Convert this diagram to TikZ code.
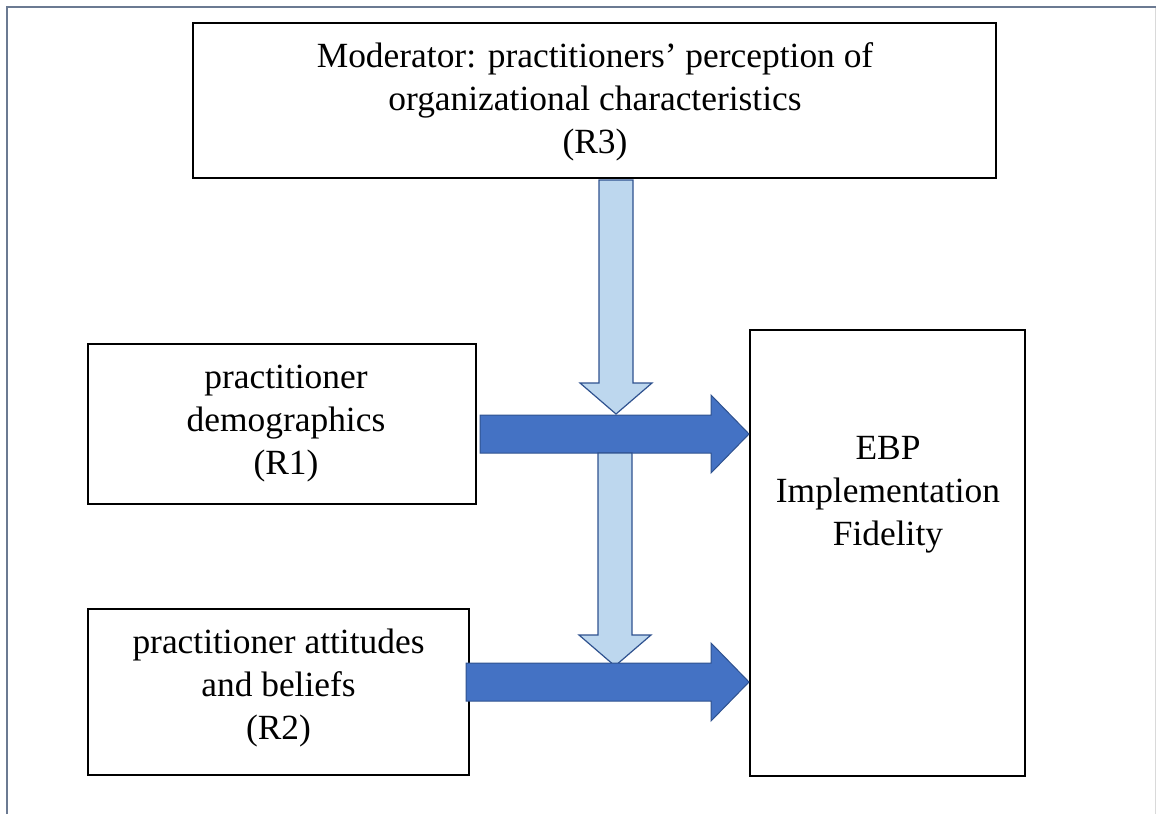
\documentclass[tikz,border=0pt]{standalone}
\usepackage{fontspec}
\setmainfont{Liberation Serif}
\usetikzlibrary{calc}

\definecolor{arrowdark}{HTML}{4472C4}
\definecolor{arrowlight}{HTML}{BDD7EE}
\definecolor{arrowline}{HTML}{2F528F}
\definecolor{framegrey}{HTML}{6B7A92}
\definecolor{edgegrey}{HTML}{D9D9D9}

% block arrows, tail -> tip
\newcommand\rightblock[3]{%
  \draw[#1] let \p1=(#2), \p2=(#3) in
    (\x1,\y2+19pt) -- (\x2-38pt,\y2+19pt) -- (\x2-38pt,\y2+39pt) -- (\p2)
    -- (\x2-38pt,\y2-39pt) -- (\x2-38pt,\y2-19pt) -- (\x1,\y2-19pt) -- cycle;}
\newcommand\downblock[3]{%
  \draw[#1] let \p1=(#2), \p2=(#3) in
    (\x2-17pt,\y1) -- (\x2-17pt,\y2+31pt) -- (\x2-36pt,\y2+31pt) -- (\p2)
    -- (\x2+36pt,\y2+31pt) -- (\x2+17pt,\y2+31pt) -- (\x2+17pt,\y1) -- cycle;}

\begin{document}
\begin{tikzpicture}[x=1pt,y=-1pt,
  box/.style={draw=black,line width=2pt,rectangle,inner sep=0pt},
  txt/.style={align=center,font=\fontsize{35.4}{43}\selectfont},
  bigarrow/.style={fill=arrowdark,draw=arrowline,line width=1pt},
  modarrow/.style={fill=arrowlight,draw=arrowline,line width=1.2pt}]

  \useasboundingbox (0,0) rectangle (1156,814);

  \draw[framegrey,line width=1.5pt] (7,814) -- (7,7) -- (1156,7);
  \draw[edgegrey,line width=1pt] (1155,8) -- (1155,814);

  \node[box,minimum width=803pt,minimum height=155pt] (mod) at (594.5,100.5) {};
  \node[box,minimum width=388pt,minimum height=160pt] (dem) at (282,424) {};
  \node[box,minimum width=381pt,minimum height=166pt] (att) at (278.5,692) {};
  \node[box,minimum width=275pt,minimum height=446pt] (fid) at (887.5,553) {};

  \node[txt] (modtxt) at (595,102) {Moderator: practitioners’ perception of\\organizational characteristics\\(R3)};
  \node[txt] (demtxt) at (286,424) {practitioner\\demographics\\(R1)};
  \node[txt] (atttxt) at (278.5,688) {practitioner attitudes\\and beliefs\\(R2)};
  \node[txt] (fidtxt) at (888,495) {EBP\\Implementation\\Fidelity};

  \coordinate (modout) at (616,180);
  \coordinate (modtip1) at (616,414);
  \coordinate (modmid) at (615,453);
  \coordinate (modtip2) at (615,666);
  \coordinate (demout) at (480,434);
  \coordinate (attout) at (466,682);
  \coordinate (fidin1) at (fid.west |- demout);
  \coordinate (fidin2) at (fid.west |- attout);

  \downblock{modarrow}{modout}{modtip1}
  \rightblock{bigarrow}{demout}{fidin1}
  \downblock{modarrow}{modmid}{modtip2}
  \rightblock{bigarrow}{attout}{fidin2}

\end{tikzpicture}
\end{document}
